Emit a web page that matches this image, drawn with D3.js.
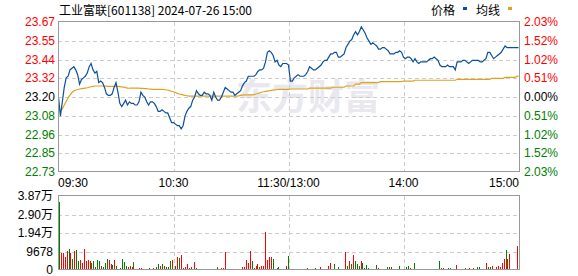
<!DOCTYPE html>
<html>
<head>
<meta charset="utf-8">
<script src="https://cdn.jsdelivr.net/npm/d3@7"></script>
<style>
body{margin:0;background:#fff;}
text{font-family:"Liberation Sans",Arial,sans-serif;font-size:12px;}
.cn{font-family:"Noto Sans CJK SC",sans-serif;}
</style>
</head>
<body>
<div id="chart"></div>
<script>
// minute data 09:30 .. 11:30 / 13:01 .. 15:00 (241 points)
var prices = [
  23.20, 23.08, 23.17, 23.26, 23.32, 23.33, 23.37, 23.38, 23.39, 23.37,
  23.34, 23.28, 23.31, 23.32, 23.33, 23.35, 23.39, 23.41, 23.37, 23.35,
  23.36, 23.29, 23.30, 23.29, 23.26, 23.22, 23.21, 23.21, 23.22, 23.26,
  23.29, 23.23, 23.16, 23.14, 23.16, 23.18, 23.15, 23.17, 23.16, 23.16,
  23.15, 23.15, 23.17, 23.23, 23.21, 23.20, 23.17, 23.15, 23.17, 23.17,
  23.16, 23.14, 23.11, 23.11, 23.12, 23.11, 23.10, 23.10, 23.07, 23.04,
  23.04, 23.03, 23.02, 23.02, 23.00, 23.02, 23.08, 23.11, 23.13, 23.14,
  23.18, 23.20, 23.24, 23.22, 23.21, 23.21, 23.23, 23.22, 23.22, 23.21,
  23.18, 23.23, 23.20, 23.18, 23.18, 23.20, 23.23, 23.26, 23.25, 23.24,
  23.23, 23.23, 23.21, 23.22, 23.23, 23.24, 23.27, 23.29, 23.30, 23.33,
  23.33, 23.33, 23.33, 23.34, 23.36, 23.37, 23.37, 23.38, 23.42, 23.48,
  23.49, 23.48, 23.46, 23.42, 23.43, 23.40, 23.39, 23.41, 23.41, 23.41,
  23.40,
  23.30, 23.30, 23.32, 23.33, 23.34, 23.33, 23.33, 23.33, 23.34, 23.36,
  23.39, 23.38, 23.37, 23.37, 23.38, 23.39, 23.40, 23.42, 23.43, 23.43,
  23.45, 23.47, 23.47, 23.48, 23.48, 23.45, 23.45, 23.46, 23.47, 23.51,
  23.53, 23.55, 23.56, 23.59, 23.61, 23.59, 23.61, 23.64, 23.62, 23.60,
  23.57, 23.55, 23.53, 23.54, 23.53, 23.52, 23.50, 23.50, 23.51, 23.51,
  23.50, 23.49, 23.47, 23.47, 23.47, 23.48, 23.48, 23.49, 23.48, 23.45,
  23.44, 23.45, 23.45, 23.44, 23.42, 23.44, 23.42, 23.41, 23.42, 23.42,
  23.42, 23.42, 23.43, 23.44, 23.44, 23.45, 23.44, 23.43, 23.40, 23.39,
  23.39, 23.39, 23.40, 23.39, 23.39, 23.39, 23.37, 23.42, 23.42, 23.42,
  23.43, 23.43, 23.42, 23.41, 23.42, 23.43, 23.43, 23.43, 23.43, 23.42,
  23.42, 23.43, 23.44, 23.48, 23.48, 23.46, 23.44, 23.45, 23.46, 23.47,
  23.48, 23.50, 23.52, 23.51, 23.51, 23.51, 23.51, 23.51, 23.51, 23.51
]

var avgPrices = [
  23.114, 23.116, 23.125, 23.150, 23.172, 23.195, 23.212, 23.228, 23.238, 23.244,
  23.247, 23.250, 23.252, 23.254, 23.256, 23.258, 23.261, 23.264, 23.267, 23.269,
  23.269, 23.269, 23.269, 23.269, 23.268, 23.268, 23.267, 23.267, 23.267, 23.266,
  23.266, 23.266, 23.265, 23.264, 23.262, 23.259, 23.256, 23.255, 23.255, 23.255,
  23.255, 23.255, 23.255, 23.254, 23.254, 23.253, 23.252, 23.250, 23.249, 23.248,
  23.248, 23.248, 23.248, 23.248, 23.248, 23.247, 23.245, 23.244, 23.240, 23.236,
  23.233, 23.228, 23.223, 23.219, 23.216, 23.213, 23.210, 23.208, 23.206, 23.206,
  23.206, 23.206, 23.206, 23.206, 23.206, 23.206, 23.206, 23.206, 23.206, 23.206,
  23.206, 23.206, 23.206, 23.206, 23.206, 23.206, 23.206, 23.206, 23.206, 23.206,
  23.206, 23.206, 23.206, 23.206, 23.207, 23.210, 23.212, 23.213, 23.213, 23.213,
  23.213, 23.213, 23.215, 23.219, 23.222, 23.226, 23.230, 23.233, 23.235, 23.237,
  23.239, 23.241, 23.243, 23.245, 23.247, 23.248, 23.248, 23.248, 23.248, 23.248,
  23.248,
  23.250, 23.250, 23.250, 23.250, 23.250, 23.250, 23.250, 23.250, 23.250, 23.250,
  23.255, 23.255, 23.255, 23.255, 23.255, 23.255, 23.255, 23.255, 23.255, 23.255,
  23.255, 23.255, 23.261, 23.261, 23.261, 23.261, 23.261, 23.261, 23.261, 23.269,
  23.269, 23.269, 23.269, 23.269, 23.281, 23.281, 23.281, 23.290, 23.290, 23.290,
  23.290, 23.290, 23.290, 23.290, 23.290, 23.290, 23.292, 23.296, 23.296, 23.296,
  23.296, 23.296, 23.296, 23.296, 23.296, 23.296, 23.296, 23.296, 23.296, 23.300,
  23.300, 23.300, 23.300, 23.300, 23.300, 23.305, 23.305, 23.305, 23.305, 23.305,
  23.305, 23.305, 23.305, 23.305, 23.305, 23.305, 23.305, 23.305, 23.305, 23.305,
  23.305, 23.305, 23.305, 23.305, 23.305, 23.305, 23.305, 23.311, 23.311, 23.311,
  23.311, 23.311, 23.311, 23.311, 23.311, 23.311, 23.311, 23.311, 23.311, 23.311,
  23.311, 23.311, 23.311, 23.311, 23.311, 23.317, 23.317, 23.317, 23.317, 23.317,
  23.317, 23.317, 23.323, 23.323, 23.323, 23.323, 23.323, 23.323, 23.328, 23.332
]

var volumes = [
  35700, 8700, 8700, 7000, 9900, 11000, 8700, 5700, 9900, 10400,
  4700, 5200, 3800, 11000, 4700, 5200, 4900, 3800, 4700, 1700,
  5200, 4700, 2100, 1700, 3500, 5700, 5200, 3100, 2600, 5200,
  2100, 500, 900, 5700, 4000, 2100, 1700, 2300, 1700, 4400,
  500, 500, 1000, 1000, 500, 500, 500, 1000, 500, 1000,
  500, 1700, 3100, 2100, 3000, 2100, 1700, 1700, 4700, 5200,
  500, 2100, 6800, 6300, 7800, 1000, 1700, 3100, 1000, 1700,
  500, 4200, 1000, 500, 500, 500, 500, 500, 500, 500,
  500, 500, 500, 1600, 500, 1000, 1000, 9400, 500, 500,
  500, 500, 500, 500, 500, 500, 1600, 1600, 5200, 3700,
  9900, 4700, 1000, 2100, 3100, 1600, 2100, 2100, 19800, 5200,
  6800, 6800, 5700, 500, 1000, 1600, 500, 500, 500, 2100,
  7300,
  500, 500, 500, 500, 500, 500, 500, 500, 500, 1000,
  500, 500, 500, 1000, 500, 500, 1600, 500, 500, 500,
  2100, 3700, 500, 3100, 500, 1600, 500, 500, 500, 9400,
  2100, 4700, 3100, 7800, 4700, 3100, 2100, 4700, 3700, 1000,
  2600, 1000, 500, 500, 500, 2600, 1000, 500, 500, 500,
  500, 1600, 1600, 1600, 500, 500, 500, 2100, 500, 500,
  500, 1600, 2100, 1000, 500, 3700, 500, 500, 500, 500,
  500, 500, 500, 500, 500, 500, 500, 500, 4700, 1000,
  1000, 500, 500, 1000, 1000, 500, 500, 2600, 500, 500,
  500, 500, 1000, 500, 1000, 500, 1000, 500, 1600, 1600,
  500, 500, 500, 3700, 1600, 1600, 2100, 500, 1600, 2100,
  1600, 3700, 5700, 10400, 5700, 8300, 500, 0, 0, 12500
]

// r = up (red), g = down (green)
var volDirs = (
  "grrrrgrgrg" + "grrrrrrggr" + "ggrgggrrgr" + "ggggggrrrg" +
  "rrrrggrggr" + "gggrgrgggr" + "rgrgrrrrgr" + "rrgrrggggg" +
  "ggrgrrrrrg" + "ggggggrrrr" + "rgrrrgrrrr" + "rrgrggrrrr" + "g" +
  "grrrrrrrrr" + "ggggrrrrgr" + "rrggrgrgrr" + "grgrgggrgg" +
  "ggggrgrrgr" + "gggrrrrgrr" + "rggrrgrrrr" + "rrrrggrrgg" +
  "rrrggrrrrr" + "rrgrrgrrgg" + "rrrrggrrrr" + "rrrgrrrrrr"
).split("")

var prevClose = 23.20
var priceLabels = ["23.67", "23.55", "23.44", "23.32", "23.20", "23.08", "22.96", "22.85", "22.73"]
var pctLabels = ["2.03%", "1.52%", "1.02%", "0.51%", "0.00%", "0.51%", "1.02%", "1.52%", "2.03%"]
var volTicks = [0, 9678, 19356, 29034, 38712]
var volLabels = ["0", "9678", "1.94万", "2.90万", "3.87万"]
var timeTicks = [0, 60, 120, 180, 240]
var timeLabels = ["09:30", "10:30", "11:30/13:00", "14:00", "15:00"]

var main = {left: 58, right: 519, top: 22, bottom: 172}
var vol = {top: 196, bottom: 270}
var red = "#ff0000", green = "#008000"

var svg = d3.select("#chart").append("svg")
    .attr("width", 578)
    .attr("height", 276)

var xScale = d3.scaleLinear().domain([0, 240]).range([main.left + 0.5, main.right - 0.5])
var xBar = d3.scaleLinear().domain([0, 240]).range([main.left + 1.5, main.right - 1.5])
var maxDev = 0.47
var yScale = d3.scaleLinear().domain([prevClose - maxDev, prevClose + maxDev]).range([main.bottom, main.top])
var yVol = d3.scaleLinear().domain([0, volTicks[4]]).range([vol.bottom, vol.top])

var levels = priceLabels.map(function(d, k){ return prevClose + maxDev - k * maxDev / 4 })
function crisp(v){ return Math.round(v) + 0.5 }

// title + legend
svg.append("text").attr("class", "cn")
    .attr("x", 59).attr("y", 9).attr("dominant-baseline", "central")
    .style("font-size", "12px")
    .text("工业富联[601138] 2024-07-26 15:00")

var legend = [["价格", "#0b4f9f", 431], ["均线", "#e0a21e", 476]]
legend.forEach(function(l){
    svg.append("text").attr("class", "cn")
        .attr("x", l[2]).attr("y", 9).attr("dominant-baseline", "central")
        .style("font-size", "12px").text(l[0])
    svg.append("rect").attr("x", l[2] + 32).attr("y", 7).attr("width", 4).attr("height", 3)
        .attr("fill", l[1])
})

// watermark
svg.append("text").attr("class", "cn")
    .attr("x", 236).attr("y", 110)
    .style("font-size", "36px").style("font-weight", "bold")
    .attr("fill", "#e8e8ee")
    .text("东方财富")

// grids
var grid = svg.append("g").attr("stroke", "#cccccc").attr("stroke-dasharray", "4,3")
    .attr("shape-rendering", "crispEdges")
grid.selectAll(".hg").data(levels.slice(1, 8)).enter().append("line")
    .attr("x1", main.left).attr("x2", main.right)
    .attr("y1", function(d){ return crisp(yScale(d)) })
    .attr("y2", function(d){ return crisp(yScale(d)) })
grid.selectAll(".vg").data(volTicks.slice(1, 4)).enter().append("line")
    .attr("x1", main.left).attr("x2", main.right)
    .attr("y1", function(d){ return crisp(yVol(d)) })
    .attr("y2", function(d){ return crisp(yVol(d)) })
grid.selectAll(".tg").data(timeTicks.slice(1, 4)).enter().append("line")
    .attr("x1", function(d){ return crisp(xScale(d)) })
    .attr("x2", function(d){ return crisp(xScale(d)) })
    .attr("y1", main.top).attr("y2", main.bottom)
grid.selectAll(".tg2").data(timeTicks.slice(1, 4)).enter().append("line")
    .attr("x1", function(d){ return crisp(xScale(d)) })
    .attr("x2", function(d){ return crisp(xScale(d)) })
    .attr("y1", vol.top).attr("y2", vol.bottom)

// price and average lines
var idx = d3.range(prices.length)
var priceLine = d3.line().x(function(i){ return xScale(i) }).y(function(i){ return yScale(prices[i]) })
var avgLine = d3.line().x(function(i){ return xScale(i) }).y(function(i){ return yScale(avgPrices[i]) })

svg.append("path").attr("d", avgLine(idx))
    .attr("fill", "none").attr("stroke", "#e0a21e").attr("stroke-width", 1.2)
svg.append("path").attr("d", priceLine(idx))
    .attr("fill", "none").attr("stroke", "#0b4f9f").attr("stroke-width", 1.2)

// volume bars
svg.append("g").attr("shape-rendering", "crispEdges")
    .selectAll("rect").data(volumes).enter().append("rect")
    .attr("x", function(d, i){ return Math.floor(xBar(i)) })
    .attr("width", 1)
    .attr("y", function(d){ return yVol(d) })
    .attr("height", function(d){ return vol.bottom - yVol(d) })
    .attr("fill", function(d, i){ return volDirs[i] === "r" ? red : green })

// frames
svg.append("rect").attr("x", main.left + 0.5).attr("y", main.top - 0.5)
    .attr("width", main.right - main.left).attr("height", main.bottom - main.top)
    .attr("fill", "none").attr("stroke", "#999").attr("shape-rendering", "crispEdges")
svg.append("rect").attr("x", main.left + 0.5).attr("y", vol.top - 0.5)
    .attr("width", main.right - main.left).attr("height", vol.bottom - vol.top)
    .attr("fill", "none").attr("stroke", "#999").attr("shape-rendering", "crispEdges")

// axis labels
function levelColor(k){ return k < 4 ? red : (k > 4 ? green : "#000") }
svg.selectAll(".pl").data(priceLabels).enter().append("text")
    .attr("x", 55).attr("y", function(d, k){ return yScale(levels[k]) })
    .attr("text-anchor", "end").attr("dominant-baseline", "central")
    .attr("fill", function(d, k){ return levelColor(k) })
    .text(function(d){ return d })
svg.selectAll(".pc").data(pctLabels).enter().append("text")
    .attr("x", 524).attr("y", function(d, k){ return yScale(levels[k]) })
    .attr("dominant-baseline", "central")
    .attr("fill", function(d, k){ return levelColor(k) })
    .text(function(d){ return d })
svg.selectAll(".tl").data(timeLabels).enter().append("text")
    .attr("x", function(d, k){ return k === 0 ? main.left : (k === 4 ? main.right : xScale(timeTicks[k])) })
    .attr("y", 183).attr("dominant-baseline", "central")
    .attr("text-anchor", function(d, k){ return k === 0 ? "start" : (k === 4 ? "end" : "middle") })
    .text(function(d){ return d })
svg.selectAll(".vl").data(volLabels).enter().append("text")
    .attr("x", 53).attr("y", function(d, k){ return yVol(volTicks[k]) })
    .attr("text-anchor", "end").attr("dominant-baseline", "central")
    .style("font-family", "'Liberation Sans','Noto Sans CJK SC',sans-serif")
    .text(function(d){ return d })
</script>
</body>
</html>
